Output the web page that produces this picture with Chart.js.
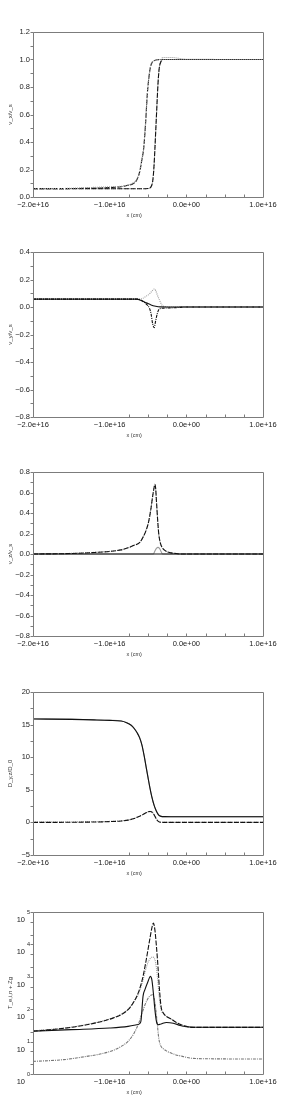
<!DOCTYPE html>
<html><head><meta charset="utf-8">
<script src="https://cdn.jsdelivr.net/npm/chart.js@4/dist/chart.umd.min.js"></script>
<style>
html,body{margin:0;padding:0;background:#fff;width:305px;height:1102px;overflow:hidden}
.p{position:absolute;left:0;width:305px}
canvas{display:block}
</style></head><body>
<div class="p" style="top:0px"><canvas id="c0" width="305" height="220"></canvas></div>
<div class="p" style="top:220px"><canvas id="c1" width="305" height="220"></canvas></div>
<div class="p" style="top:440px"><canvas id="c2" width="305" height="220"></canvas></div>
<div class="p" style="top:660px"><canvas id="c3" width="305" height="220"></canvas></div>
<div class="p" style="top:880px"><canvas id="c4" width="305" height="222"></canvas></div>
<script>
// ---------- shared x axis ----------
const X_TICK_VALUES = [-2.0e16, -1.0e16, 0.0, 1.0e16];
const X_TICK_LABELS = ["−2.0e+16", "−1.0e+16", "0.0e+00", "1.0e+16"];
const X_TICK_LABELS_LOG = ["", "−1.0e+16", "0.0e+00", "1.0e+16"];
const X_MINOR_MARKS = [-0.75e16, -0.5e16, -0.25e16, 0.0, 0.25e16, 0.5e16, 0.75e16];

// ---------- panel 1: v_x/v_s ----------
const P1_Y_TICKS = [0.0, 0.2, 0.4, 0.6, 0.8, 1.0, 1.2];
const P1_Y_LABELS = ["0.0", "0.2", "0.4", "0.6", "0.8", "1.0", "1.2"];
const P1_Y_MARKS = [0.0, 0.1, 0.2, 0.3, 0.4, 0.5, 0.6, 0.7, 0.8, 0.9, 1.0, 1.1, 1.2];
const P1_A_X = [-2.0e16,-1.6e16,-1.3e16,-1.1e16,-0.95e16,-0.85e16,-0.76e16,-0.70e16,-0.65e16,-0.61e16,-0.58e16,-0.555e16,-0.53e16,-0.51e16,-0.49e16,-0.47e16,-0.45e16,-0.42e16,-0.38e16,-0.30e16,1.0e16];
const P1_A_Y = [0.060,0.061,0.063,0.066,0.070,0.075,0.085,0.095,0.12,0.18,0.27,0.36,0.55,0.74,0.86,0.94,0.975,0.99,0.998,1.0,1.0];
const P1_A2_Y = [0.060,0.062,0.068,0.072,0.075,0.078,0.088,0.10,0.125,0.185,0.28,0.37,0.56,0.745,0.865,0.945,0.978,0.992,1.0,1.0,1.0];
const P1_B_X = [-2.0e16,-1.0e16,-0.60e16,-0.50e16,-0.46e16,-0.44e16,-0.43e16,-0.42e16,-0.41e16,-0.40e16,-0.39e16,-0.38e16,-0.37e16,-0.355e16,-0.33e16,-0.30e16,-0.20e16,0.0,1.0e16];
const P1_B_Y = [0.060,0.060,0.060,0.062,0.075,0.11,0.16,0.24,0.35,0.47,0.59,0.71,0.82,0.93,0.985,1.0,1.0,1.0,1.0];
const P1_B2_Y = [0.060,0.060,0.060,0.062,0.075,0.11,0.16,0.24,0.35,0.47,0.59,0.71,0.82,0.93,0.995,1.015,1.015,1.002,1.0];

// ---------- panel 2: v_y/v_s ----------
const P2_Y_TICKS = [-0.8, -0.6, -0.4, -0.2, 0.0, 0.2, 0.4];
const P2_Y_LABELS = ["−0.8", "−0.6", "−0.4", "−0.2", "0.0", "0.2", "0.4"];
const P2_Y_MARKS = [-0.8,-0.7,-0.6,-0.5,-0.4,-0.3,-0.2,-0.1,0.0,0.1,0.2,0.3,0.4];
const P2_UP_X = [-2.0e16,-0.63e16,-0.58e16,-0.52e16,-0.48e16,-0.45e16,-0.42e16,-0.40e16,-0.38e16,-0.35e16,-0.32e16,-0.28e16,-0.20e16,0.0,1.0e16];
const P2_UP_Y = [0.057,0.057,0.06,0.08,0.095,0.115,0.13,0.12,0.09,0.05,0.015,0.003,0.0,0.0,0.0];
const P2_DN_X = [-2.0e16,-0.63e16,-0.58e16,-0.52e16,-0.48e16,-0.46e16,-0.44e16,-0.42e16,-0.40e16,-0.38e16,-0.36e16,-0.33e16,-0.28e16,-0.15e16,0.0,1.0e16];
const P2_DN_Y = [0.057,0.057,0.045,0.02,-0.01,-0.05,-0.12,-0.15,-0.10,-0.05,-0.02,-0.01,-0.008,-0.005,0.0,0.0];
const P2_MID_X = [-2.0e16,-0.65e16,-0.58e16,-0.52e16,-0.46e16,-0.40e16,-0.34e16,-0.25e16,1.0e16];
const P2_MID_Y = [0.057,0.057,0.045,0.03,0.015,0.006,0.001,0.0,0.0];

// ---------- panel 3: v_z/v_s ----------
const P3_Y_TICKS = [-0.8, -0.6, -0.4, -0.2, 0.0, 0.2, 0.4, 0.6, 0.8];
const P3_Y_LABELS = ["−0.8", "−0.6", "−0.4", "−0.2", "0.0", "0.2", "0.4", "0.6", "0.8"];
const P3_Y_MARKS = [-0.8,-0.7,-0.6,-0.5,-0.4,-0.3,-0.2,-0.1,0.0,0.1,0.2,0.3,0.4,0.5,0.6,0.7,0.8];
const P3_BIG_X = [-2.0e16,-1.6e16,-1.4e16,-1.2e16,-1.0e16,-0.85e16,-0.76e16,-0.68e16,-0.61e16,-0.56e16,-0.52e16,-0.49e16,-0.46e16,-0.44e16,-0.42e16,-0.41e16,-0.40e16,-0.39e16,-0.38e16,-0.37e16,-0.36e16,-0.34e16,-0.32e16,-0.28e16,-0.22e16,-0.15e16,-0.08e16,1.0e16];
const P3_BIG_Y = [0.0,0.003,0.008,0.015,0.025,0.04,0.06,0.085,0.11,0.17,0.24,0.32,0.45,0.56,0.65,0.68,0.64,0.52,0.40,0.29,0.20,0.11,0.07,0.035,0.015,0.006,0.0,0.0];
const P3_BIG2_Y = [0.0,0.004,0.009,0.016,0.026,0.041,0.062,0.087,0.112,0.172,0.243,0.323,0.452,0.56,0.645,0.672,0.635,0.515,0.395,0.285,0.195,0.108,0.068,0.034,0.014,0.005,0.0,0.0];
const P3_BUMP_X = [-2.0e16,-0.43e16,-0.41e16,-0.39e16,-0.37e16,-0.35e16,-0.33e16,-0.31e16,1.0e16];
const P3_BUMP_Y = [0.0,0.0,0.03,0.055,0.065,0.055,0.025,0.0,0.0];
const P3_BASE_X = [-2.0e16, 1.0e16];
const P3_BASE_Y = [0.0, 0.0];

// ---------- panel 4: D_y,z/D_0 ----------
const P4_Y_TICKS = [-5, 0, 5, 10, 15, 20];
const P4_Y_LABELS = ["−5", "0", "5", "10", "15", "20"];
const P4_Y_MARKS = [-5,-2.5,0,2.5,5,7.5,10,12.5,15,17.5,20];
const P4_TOP_X = [-2.0e16,-1.5e16,-1.2e16,-1.0e16,-0.85e16,-0.78e16,-0.72e16,-0.68e16,-0.64e16,-0.61e16,-0.58e16,-0.55e16,-0.52e16,-0.50e16,-0.48e16,-0.45e16,-0.42e16,-0.39e16,-0.36e16,-0.33e16,-0.28e16,-0.20e16,1.0e16];
const P4_TOP_Y = [15.85,15.8,15.72,15.65,15.55,15.3,14.9,14.4,13.7,13.0,11.9,10.2,8.2,6.9,5.6,3.9,2.6,1.7,1.1,0.92,0.88,0.87,0.87];
const P4_TOP2_Y = [15.9,15.85,15.7,15.66,15.56,15.32,14.92,14.42,13.72,13.02,11.92,10.22,8.22,6.92,5.62,3.92,2.62,1.72,1.12,0.93,0.89,0.88,0.88];
const P4_BUMP_X = [-2.0e16,-1.5e16,-1.2e16,-1.0e16,-0.85e16,-0.76e16,-0.68e16,-0.61e16,-0.56e16,-0.52e16,-0.49e16,-0.47e16,-0.45e16,-0.43e16,-0.41e16,-0.39e16,-0.37e16,-0.35e16,-0.32e16,-0.25e16,1.0e16];
const P4_BUMP_Y = [0.0,0.02,0.06,0.12,0.22,0.35,0.6,0.95,1.25,1.5,1.65,1.68,1.6,1.35,0.95,0.5,0.2,0.06,0.01,0.0,0.0];
const P4_BUMP2_Y = [0.05,0.07,0.1,0.15,0.24,0.37,0.62,0.96,1.26,1.51,1.66,1.69,1.61,1.36,0.96,0.51,0.21,0.07,0.02,0.0,0.0];

// ---------- panel 5: T_e,i,n + Zg (log) ----------
const P5_Y_EXPONENTS = [0, 1, 2, 3, 4, 5];
const P5_Y_TICKS = [1, 10, 100, 1000, 10000, 100000];
const P5_Y_MARKS = [1,2,5,10,20,50,100,200,500,1000,2000,5000,10000,20000,50000,100000];
const P5_C1_X = [-2.0e16,-1.8e16,-1.5e16,-1.3e16,-1.1e16,-0.95e16,-0.85e16,-0.76e16,-0.68e16,-0.62e16,-0.57e16,-0.53e16,-0.50e16,-0.47e16,-0.45e16,-0.43e16,-0.41e16,-0.39e16,-0.37e16,-0.35e16,-0.33e16,-0.30e16,-0.26e16,-0.20e16,-0.13e16,-0.05e16,0.0,0.08e16,0.2e16,1.0e16];
const P5_C1_Y = [21,23,27.5,33,42,54,68,97,175,355,910,2700,6900,17800,32000,46000,28000,8700,2100,400,123,76,60,50,39,32,29.5,27.5,27.5,27.5];
const P5_C2_X = [-2.0e16,-1.8e16,-1.5e16,-1.3e16,-1.1e16,-0.95e16,-0.85e16,-0.76e16,-0.68e16,-0.62e16,-0.57e16,-0.53e16,-0.50e16,-0.47e16,-0.44e16,-0.41e16,-0.39e16,-0.37e16,-0.35e16,-0.33e16,-0.30e16,-0.26e16,-0.20e16,-0.13e16,-0.05e16,0.0,0.08e16,0.2e16,1.0e16];
const P5_C2_Y = [21.5,23.5,28,34,43,55,70,100,180,316,720,1660,2800,3700,4070,3380,1860,645,196,97,73,60,50,39,32,29.5,27.5,27.5,27.5];
const P5_C3_X = [-2.0e16,-1.5e16,-1.0e16,-0.76e16,-0.65e16,-0.60e16,-0.59e16,-0.565e16,-0.54e16,-0.50e16,-0.47e16,-0.45e16,-0.43e16,-0.41e16,-0.39e16,-0.37e16,-0.33e16,-0.26e16,-0.17e16,-0.08e16,0.0,0.1e16,1.0e16];
const P5_C3_Y = [21,23.4,26.3,29.5,33,37.6,47,250,400,720,1030,815,316,97,42,33,35,39,37,31.6,29,27.5,27.5];
const P5_C4_X = [-2.0e16,-1.6e16,-1.3e16,-1.1e16,-0.95e16,-0.85e16,-0.76e16,-0.68e16,-0.62e16,-0.57e16,-0.52e16,-0.48e16,-0.44e16,-0.42e16,-0.40e16,-0.38e16,-0.36e16,-0.34e16,-0.30e16,-0.25e16,-0.15e16,-0.05e16,0.05e16,0.2e16,1.0e16];
const P5_C4_Y = [2.45,2.77,3.5,4.24,5.4,7.1,10.2,18.5,37.6,86,175,250,280,222,108,37.6,13,8,6.0,5.0,4.0,3.5,3.1,2.97,2.9];

// ---------- helpers ----------
const pts = (xs, ys) => xs.map((x, i) => ({x: x, y: ys[i]}));
const FONT = '"Liberation Sans", Arial, sans-serif';
const BLACK = '#111111', GREY = '#9a9a9a';

function ds(xs, ys, color, dash, width) {
  return {data: pts(xs, ys), borderColor: color, borderWidth: width || 1.1, borderDash: dash || [],
          pointRadius: 0, fill: false, cubicInterpolationMode: 'monotone'};
}

const framePlugin = {
  id: 'frame',
  afterDraw(chart, args, o) {
    const ctx = chart.ctx, a = chart.chartArea, xs = chart.scales.x, ys = chart.scales.y;
    ctx.save();
    ctx.strokeStyle = '#7c7c7c';
    ctx.lineWidth = 1;
    const L = Math.round(a.left) + 0.5, T = Math.round(a.top) + 0.5;
    const R = Math.round(a.right) + 0.5, B = Math.round(a.bottom) + 0.5;
    ctx.beginPath();
    ctx.moveTo(L, T); ctx.lineTo(R, T); ctx.lineTo(R, B); ctx.lineTo(L, B); ctx.closePath();
    o.yMarks.forEach(v => { const y = Math.round(ys.getPixelForValue(v)) + 0.5; ctx.moveTo(L - 3, y); ctx.lineTo(L, y); });
    o.xMarks.forEach(v => { const x = Math.round(xs.getPixelForValue(v)) + 0.5; ctx.moveTo(x, B); ctx.lineTo(x, B - 3); });
    ctx.stroke();
    ctx.fillStyle = '#333';
    ctx.textAlign = 'center';
    ctx.textBaseline = 'middle';
    ctx.font = '5.5px ' + FONT;
    ctx.fillText(o.xTitle, a.left + 0.44 * (a.right - a.left), a.bottom + 18);
    if (o.logExponents) {
      o.logExponents.forEach(e => {
        const y = ys.getPixelForValue(Math.pow(10, e));
        ctx.fillStyle = '#222';
        ctx.font = '7.5px ' + FONT; ctx.textAlign = 'right';
        ctx.fillText('10', a.left - 8, y + 8);
        ctx.font = '5.5px ' + FONT; ctx.textAlign = 'left';
        ctx.fillText(String(e), a.left - 6, y);
      });
    }
    ctx.fillStyle = '#333';
    ctx.font = '6px ' + FONT;
    ctx.textAlign = 'center';
    ctx.translate(10, (a.top + a.bottom) / 2);
    ctx.rotate(-Math.PI / 2);
    ctx.fillText(o.yTitle, 0, 0);
    ctx.restore();
  }
};

function makeChart(id, p) {
  const canvasH = document.getElementById(id).height;
  const xH = canvasH - 32 - p.plotH;
  return new Chart(document.getElementById(id), {
    type: 'line',
    data: {datasets: p.datasets},
    plugins: [framePlugin],
    options: {
      responsive: false, animation: false, devicePixelRatio: 1,
      layout: {padding: {left: 0, right: 42, top: 32, bottom: 0}},
      plugins: {legend: {display: false}, tooltip: {enabled: false},
                frame: {xMarks: X_MINOR_MARKS, yMarks: p.yMarks, xTitle: 'x (cm)', yTitle: p.yTitle, logExponents: p.logExponents}},
      scales: {
        x: {type: 'linear', min: -2.0e16, max: 1.0e16,
            grid: {display: false, drawTicks: false}, border: {display: false},
            afterBuildTicks: s => { s.ticks = X_TICK_VALUES.map(v => ({value: v})); },
            afterFit: s => { s.height = xH; },
            ticks: {autoSkip: false, maxRotation: 0, padding: 3, color: '#222', font: {family: FONT, size: 7.5},
                    callback: (v) => p.xLabels[X_TICK_VALUES.indexOf(v)] ?? ''}},
        y: {type: p.yType || 'linear', min: p.yMin, max: p.yMax,
            grid: {display: false, drawTicks: false}, border: {display: false},
            afterBuildTicks: s => { s.ticks = p.yTicks.map(v => ({value: v})); },
            afterFit: s => { s.width = 33; },
            ticks: {display: !p.logExponents, autoSkip: false, padding: 3, color: '#222', font: {family: FONT, size: 7.5},
                    callback: (v, i) => p.yLabels ? (p.yLabels[i] ?? '') : ''}}
      }
    }
  });
}

makeChart('c0', {plotH: 165, yMin: 0, yMax: 1.2, yTicks: P1_Y_TICKS, yLabels: P1_Y_LABELS, yMarks: P1_Y_MARKS,
  yTitle: 'v_x/v_s', xLabels: X_TICK_LABELS,
  datasets: [
    ds(P1_A_X, P1_A2_Y, GREY, [1, 1]),
    ds(P1_A_X, P1_A_Y, BLACK, [5, 1.5]),
    ds(P1_B_X, P1_B_Y, BLACK, [5, 1.5]),
    ds(P1_B_X, P1_B2_Y, GREY, [1, 1])
  ]});

makeChart('c1', {plotH: 165, yMin: -0.8, yMax: 0.4, yTicks: P2_Y_TICKS, yLabels: P2_Y_LABELS, yMarks: P2_Y_MARKS,
  yTitle: 'v_y/v_s', xLabels: X_TICK_LABELS,
  datasets: [
    ds(P2_MID_X, P2_MID_Y, BLACK, []),
    ds(P2_DN_X, P2_DN_Y, BLACK, [3, 1, 1, 1]),
    ds(P2_UP_X, P2_UP_Y, GREY, [1, 1])
  ]});

makeChart('c2', {plotH: 164, yMin: -0.8, yMax: 0.8, yTicks: P3_Y_TICKS, yLabels: P3_Y_LABELS, yMarks: P3_Y_MARKS,
  yTitle: 'v_z/v_s', xLabels: X_TICK_LABELS,
  datasets: [
    ds(P3_BASE_X, P3_BASE_Y, BLACK, []),
    ds(P3_BIG_X, P3_BIG_Y, BLACK, [5, 1.5]),
    ds(P3_BIG_X, P3_BIG2_Y, GREY, [1, 1]),
    ds(P3_BUMP_X, P3_BUMP_Y, GREY, [])
  ]});

makeChart('c3', {plotH: 163, yMin: -5, yMax: 20, yTicks: P4_Y_TICKS, yLabels: P4_Y_LABELS, yMarks: P4_Y_MARKS,
  yTitle: 'D_y,z/D_0', xLabels: X_TICK_LABELS,
  datasets: [
    ds(P4_TOP_X, P4_TOP_Y, BLACK, []),
    ds(P4_TOP_X, P4_TOP2_Y, GREY, []),
    ds(P4_BUMP_X, P4_BUMP_Y, BLACK, [5, 1.5]),
    ds(P4_BUMP_X, P4_BUMP2_Y, GREY, [1, 1])
  ]});

makeChart('c4', {plotH: 162, yType: 'logarithmic', yMin: 1, yMax: 100000, yTicks: P5_Y_TICKS, yLabels: null,
  yMarks: P5_Y_MARKS, logExponents: P5_Y_EXPONENTS,
  yTitle: 'T_e,i,n + Zg', xLabels: X_TICK_LABELS_LOG,
  datasets: [
    ds(P5_C1_X, P5_C1_Y, BLACK, [5, 1.5]),
    ds(P5_C2_X, P5_C2_Y, GREY, [1, 1]),
    ds(P5_C3_X, P5_C3_Y, BLACK, []),
    ds(P5_C4_X, P5_C4_Y, '#777777', [3, 1, 1, 1])
  ]});
</script>
</body></html>
